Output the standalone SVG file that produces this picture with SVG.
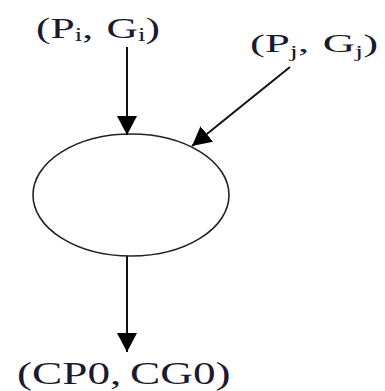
<svg xmlns="http://www.w3.org/2000/svg" width="385" height="391" viewBox="0 0 385 391">
<style>
.lbl{font-family:"Liberation Serif","Times New Roman",serif;fill:#1a1a33}
.edge{stroke:#111;stroke-width:2;fill:none}
</style>
<defs>
<marker id="ah" markerUnits="userSpaceOnUse" markerWidth="22" markerHeight="22" refX="19" refY="10" orient="auto">
<path d="M0,0 L19,10 L0,20 Z" fill="#000"/>
</marker>
</defs>
<rect width="385" height="391" fill="#fff"/>
<g id="node-pi">
<text class="lbl" font-size="29" transform="translate(36,38) scale(1.5,1)">(P<tspan font-size="18" dy="3">i</tspan><tspan dy="-3">,</tspan><tspan dx="9">G</tspan><tspan font-size="18" dy="3">i</tspan><tspan dy="-3">)</tspan></text>
</g>
<g id="node-pj">
<text class="lbl" font-size="26" transform="translate(250,52) scale(1.72,1)">(P<tspan font-size="17" dy="5">j</tspan><tspan dy="-5">,</tspan><tspan dx="8">G</tspan><tspan font-size="17" dy="5">j</tspan><tspan dy="-5">)</tspan></text>
</g>
<g id="node-op">
<ellipse cx="131" cy="195" rx="98" ry="61" fill="none" stroke="#222" stroke-width="1.6"/>
</g>
<g id="node-out">
<text class="lbl" font-size="31" transform="translate(17,384) scale(1.46,1)">(CP0,<tspan dx="6">CG0)</tspan></text>
</g>
<g id="connectors">
<line class="edge" x1="127" y1="47" x2="127" y2="135" marker-end="url(#ah)"/>
<line class="edge" x1="290" y1="67" x2="192" y2="146" stroke-width="1.6" marker-end="url(#ah)"/>
<line class="edge" x1="127" y1="256" x2="127" y2="352" marker-end="url(#ah)"/>
</g>
</svg>
